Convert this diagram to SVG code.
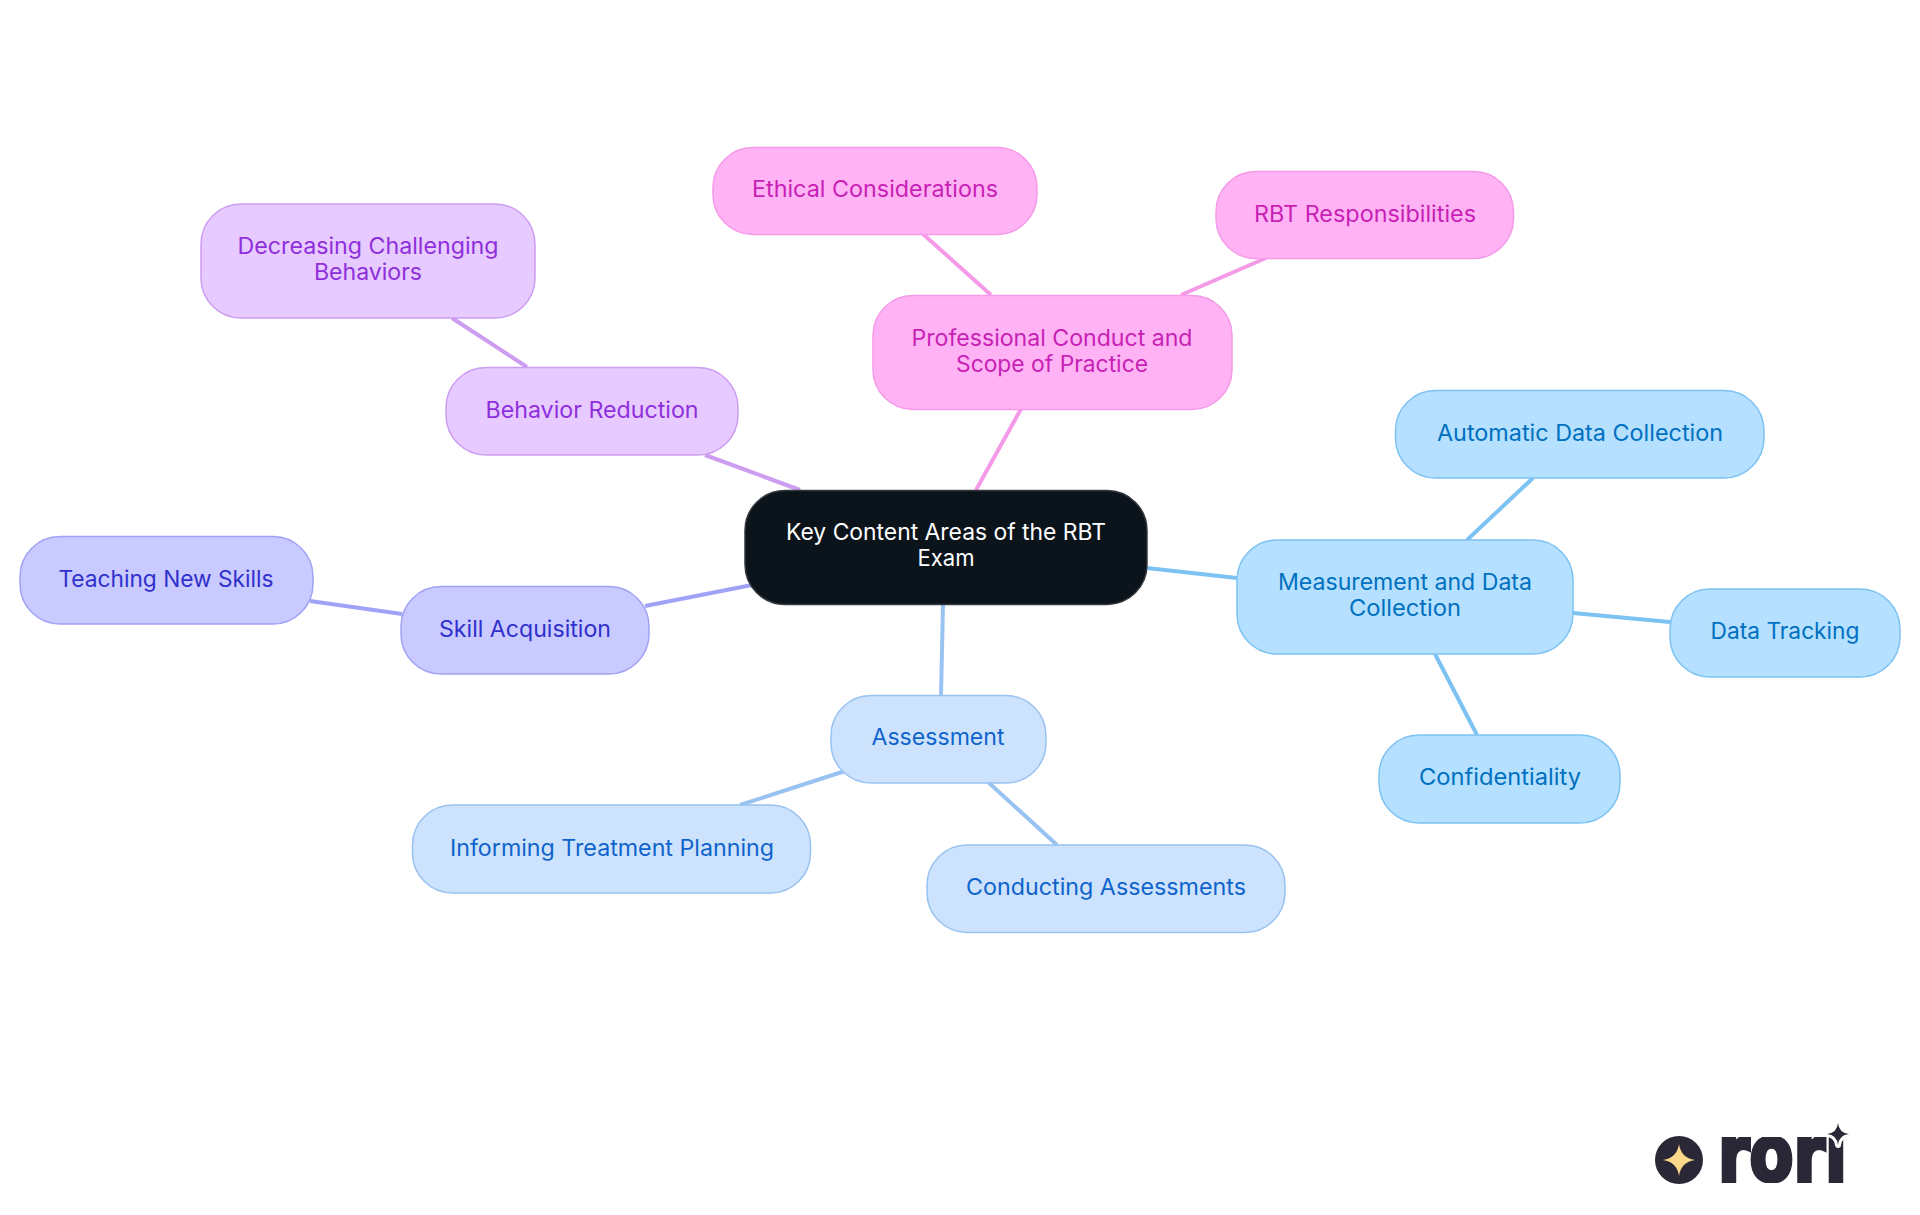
<svg xmlns="http://www.w3.org/2000/svg" width="1920" height="1215" viewBox="0 0 1920 1215">
<style>
text{font-family:"Inter","Noto Sans","Liberation Sans",sans-serif;font-size:22.4px;text-anchor:middle;font-weight:400}
.e{fill:none;stroke-width:4}
rect{stroke-width:1.5}
.pink rect{fill:#ffb3f5;stroke:#f59ae8}.pink text{fill:#c81fb5}
.purp rect{fill:#e7caff;stroke:#cd9df2}.purp text{fill:#8f2fdc}
.indi rect{fill:#c9caff;stroke:#a0a2f5}.indi text{fill:#3030cc}
.sky rect{fill:#b5e0ff;stroke:#7cc2f2}.sky text{fill:#0070c0}
.blue rect{fill:#cde3fd;stroke:#98c2f0}.blue text{fill:#0f63cc}
</style>
<rect width="1920" height="1215" fill="#fff" stroke="none"/>
<g id="connectors">
<path class="e" stroke="#f59ae8" d="M976 490L1021 409M991 295L923 234M1181 295L1266 258"/>
<path class="e" stroke="#cd9df2" d="M800 490L705 455M527 367L452 318"/>
<path class="e" stroke="#a0a2f5" d="M752 585L645 606M402 614L310 601"/>
<path class="e" stroke="#7cc2f2" d="M1147 568L1237 578M1467 540L1533 478M1573 613L1670 622M1435 654L1477 735"/>
<path class="e" stroke="#98c2f0" d="M943 604L941 696M845 771L740 805M988 782L1057 845"/>
</g>
<g id="root"><rect x="745" y="490.5" width="402" height="114" rx="40" fill="#0b131b" stroke="#33393f"/><text fill="#fff" x="946" y="540" textLength="320" lengthAdjust="spacingAndGlyphs">Key Content Areas of the RBT</text><text fill="#fff" x="946" y="566" textLength="57" lengthAdjust="spacingAndGlyphs">Exam</text></g>
<g id="pro" class="pink"><rect x="873" y="295.5" width="359" height="114" rx="40"/><text x="1052" y="346" textLength="281" lengthAdjust="spacingAndGlyphs">Professional Conduct and</text><text x="1052" y="372" textLength="192" lengthAdjust="spacingAndGlyphs">Scope of Practice</text></g>
<g id="ethical" class="pink"><rect x="713" y="147.5" width="324" height="87" rx="40"/><text x="875" y="197" textLength="246" lengthAdjust="spacingAndGlyphs">Ethical Considerations</text></g>
<g id="rbt" class="pink"><rect x="1216" y="171.5" width="297.5" height="87" rx="40"/><text x="1365" y="222" textLength="222" lengthAdjust="spacingAndGlyphs">RBT Responsibilities</text></g>
<g id="behavior" class="purp"><rect x="446" y="367.5" width="292" height="87.5" rx="40"/><text x="592" y="418" textLength="213" lengthAdjust="spacingAndGlyphs">Behavior Reduction</text></g>
<g id="decreasing" class="purp"><rect x="201" y="204" width="334" height="114" rx="40"/><text x="368" y="254" textLength="261" lengthAdjust="spacingAndGlyphs">Decreasing Challenging</text><text x="368" y="280" textLength="108" lengthAdjust="spacingAndGlyphs">Behaviors</text></g>
<g id="skill" class="indi"><rect x="401" y="586.5" width="248" height="87.5" rx="40"/><text x="525" y="637" textLength="172" lengthAdjust="spacingAndGlyphs">Skill Acquisition</text></g>
<g id="teaching" class="indi"><rect x="20" y="536.5" width="293" height="87.5" rx="40"/><text x="166" y="587" textLength="215" lengthAdjust="spacingAndGlyphs">Teaching New Skills</text></g>
<g id="measure" class="sky"><rect x="1237" y="540" width="336" height="114" rx="40"/><text x="1405" y="590" textLength="254" lengthAdjust="spacingAndGlyphs">Measurement and Data</text><text x="1405" y="616" textLength="112" lengthAdjust="spacingAndGlyphs">Collection</text></g>
<g id="auto" class="sky"><rect x="1395.5" y="390.5" width="368.5" height="87.5" rx="40"/><text x="1580" y="441" textLength="286" lengthAdjust="spacingAndGlyphs">Automatic Data Collection</text></g>
<g id="tracking" class="sky"><rect x="1670" y="589" width="230" height="88" rx="40"/><text x="1785" y="639" textLength="149" lengthAdjust="spacingAndGlyphs">Data Tracking</text></g>
<g id="conf" class="sky"><rect x="1379" y="735" width="241" height="88" rx="40"/><text x="1500" y="785" textLength="162" lengthAdjust="spacingAndGlyphs">Confidentiality</text></g>
<g id="assess" class="blue"><rect x="831" y="695.5" width="215" height="87.5" rx="40"/><text x="938" y="745" textLength="133" lengthAdjust="spacingAndGlyphs">Assessment</text></g>
<g id="inform" class="blue"><rect x="412.5" y="805" width="398" height="88" rx="40"/><text x="612" y="856" textLength="324" lengthAdjust="spacingAndGlyphs">Informing Treatment Planning</text></g>
<g id="conduct" class="blue"><rect x="927" y="845" width="358" height="87.5" rx="40"/><text x="1106" y="895" textLength="280" lengthAdjust="spacingAndGlyphs">Conducting Assessments</text></g>
<g id="logo">
<defs><clipPath id="c"><rect x="1700" y="1137" width="160" height="46"/></clipPath></defs>
<circle cx="1679" cy="1160" r="24" fill="#2a2836"/>
<path fill="#fbd98a" d="M1679 1144Q1681 1158 1695 1160Q1681 1162 1679 1176Q1677 1162 1663 1160Q1677 1158 1679 1144Z"/>
<g clip-path="url(#c)"><text x="1718" y="1181" textLength="129" lengthAdjust="spacingAndGlyphs" style="font-family:'DejaVu Sans',sans-serif;font-weight:700;font-size:78px;text-anchor:start" fill="#2a2836" stroke="#2a2836" stroke-width="4">rori</text></g>
<path fill="#2a2836" stroke="#fff" stroke-width="6" paint-order="stroke" stroke-linejoin="round" d="M1838 1123Q1839 1133 1849 1134Q1839 1135 1838 1145Q1837 1135 1827 1134Q1837 1133 1838 1123Z"/>
</g>
</svg>
